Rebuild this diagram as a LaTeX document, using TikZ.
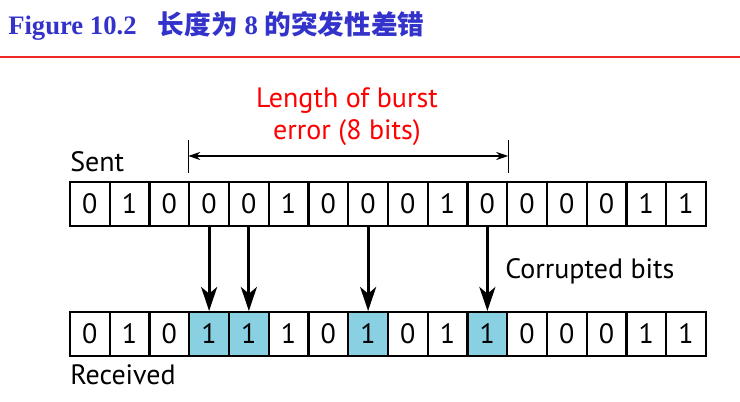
\documentclass[tikz,border=0pt]{standalone}
\usepackage{fontspec}
\setmainfont{PT Sans}
\newfontfamily\titlefont{Liberation Serif}
\newfontfamily\cjkfont{Noto Sans CJK SC}
\usetikzlibrary{arrows.meta, positioning, calc}
\definecolor{titleblue}{RGB}{51,51,204}
\definecolor{flipcyan}{RGB}{136,208,226}
\definecolor{rulered}{RGB}{240,40,40}

\begin{document}
\begin{tikzpicture}[
        x=0.75pt, y=-0.75pt,
        bitcell/.style={draw, line width=1.5pt, minimum width=29.8pt, minimum height=33pt, inner sep=0pt, font=\fontsize{21}{24}\selectfont},
        flipped/.style={bitcell, fill=flipcyan},
        hit/.style={line width=2.1pt, -{Stealth[length=18pt, width=12pt, inset=5pt]}},
        burstspan/.style={line width=1pt, {Stealth[length=9pt, width=6pt]}-{Stealth[length=9pt, width=6pt]}},
        lbl/.style={font=\fontsize{21}{24}\selectfont, inner sep=0pt},
    ]
        \useasboundingbox (0,0) rectangle (740,402);

        % Title
        \node[anchor=base west, inner sep=0pt, text=titleblue, font=\titlefont\bfseries\fontsize{20}{24}\selectfont] (title) at (8,35)
            {Figure 10.2\hspace{16pt}{\cjkfont 长度为} 8 {\cjkfont 的突发性差错}};
        \draw[line width=2pt, rulered] (0,57) -- (740,57);

        % Sent bits
        \foreach \b [count=\i] in {0,1,0,0,0,1,0,0,0,1,0,0,0,0,1,1}
            \node[bitcell] (s\i) at ({70+39.75*(\i-0.5)},204) {\b};

        % Received bits
        \foreach \b/\st [count=\i] in {0/bitcell,1/bitcell,0/bitcell,1/flipped,1/flipped,1/bitcell,0/bitcell,1/flipped,
                                       0/bitcell,1/bitcell,1/flipped,0/bitcell,0/bitcell,0/bitcell,1/bitcell,1/bitcell}
            \node[\st] (r\i) at ({70+39.75*(\i-0.5)},334) {\b};

        % Corrupted bits
        \foreach \i in {4,5,8,11} \draw[hit] (s\i.south) -- (r\i.north);

        % Burst length
        \draw[line width=1.1pt] ($(s4.north west)+(0,-8)$) -- ++(0,-33);
        \draw[line width=1.1pt] ($(s11.north east)+(0,-8)$) -- ++(0,-33);
        \coordinate (bl) at ($(s4.north west)+(0,-25)$);
        \coordinate (br) at ($(s11.north east)+(0,-25)$);
        \draw[burstspan] (bl) -- (br);
        \node[lbl, red, align=center] (burst) at (347,117) {Length of burst\\error (8 bits)};

        % Labels
        \node[lbl, anchor=base west] (sent) at (70,172) {Sent};
        \node[lbl, anchor=base west] (recv) at (70,385) {Received};
        \node[lbl, anchor=base west] (corr) at (505,279) {Corrupted bits};
    \end{tikzpicture}
\end{document}
